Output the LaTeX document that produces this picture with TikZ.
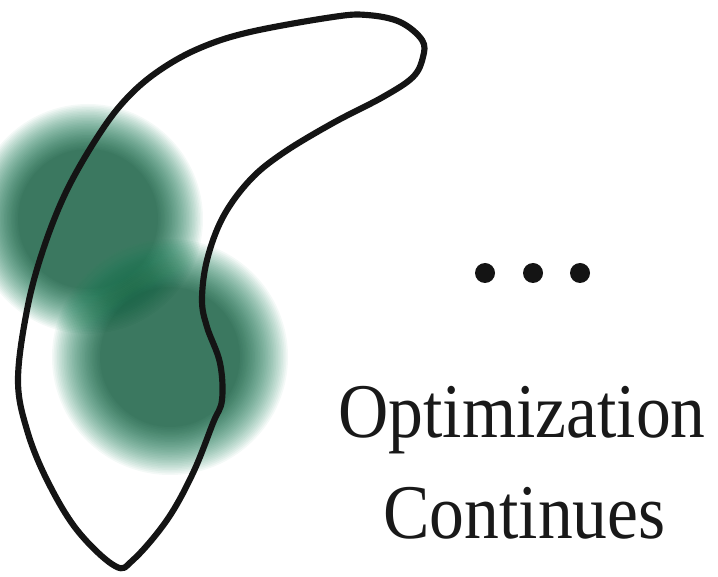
\documentclass[tikz,border=0pt]{standalone}
\usepackage{fontspec}
\setmainfont{Liberation Serif}

\definecolor{blobdark}{RGB}{8,70,40}
\definecolor{blobedge}{RGB}{30,135,95}

\tikzset{
  outline/.style={line width=3.5pt, black!92, line join=round},
  dot/.style={circle, fill=black!92, inner sep=0pt, minimum size=0.4cm},
  caption/.style={font=\fontsize{44}{57}\selectfont, text=black!90,
    xscale=0.9, inner sep=0pt}
}

\begin{document}
\begin{tikzpicture}
        \useasboundingbox (0,0) rectangle (14.36,11.52);
        % Blurred regions: stacked faint discs
        \foreach \cx/\cy/\R in {1.76/7.14/2.3, 3.40/4.38/2.36}{
          \foreach \k in {29,...,0}{
            \pgfmathsetmacro\rad{1.40+(\R-1.40)*\k/29}
            \pgfmathtruncatemacro\mix{100-3.4*\k}
            \fill[blobdark!\mix!blobedge, fill opacity=0.05]
              (\cx,\cy) circle (\rad);
          }
        }
        % Closed outline
        \draw[outline] plot[smooth cycle, tension=0.6] coordinates {
          (2.30,0.20) (1.54,0.92) (0.94,1.92) (0.54,2.92) (0.36,3.92)
          (0.54,5.32) (0.86,6.52) (1.34,7.72) (2.00,8.86) (2.56,9.58)
          (3.20,10.12) (4.00,10.56) (5.00,10.88) (6.66,11.18) (7.34,11.22)
          (8.00,11.08) (8.44,10.72) (8.46,10.38) (8.26,9.98) (7.66,9.58)
          (6.66,9.06) (5.66,8.46) (5.00,7.92) (4.46,7.18) (4.14,6.32)
          (4.04,5.52) (4.14,4.98) (4.40,4.26) (4.44,3.52) (4.26,3.06)
          (3.86,2.06) (3.34,1.12) (2.66,0.32)};
        % Dots
        \node[dot] (d1) at (9.70,6.06) {};
        \node[dot] (d2) at (10.66,6.06) {};
        \node[dot] (d3) at (11.60,6.06) {};
        % Text
        \node[caption, anchor=base] (opt) at (10.44,2.78) {Optimization};
        \node[caption, anchor=base] (cont) at (10.49,0.76) {Continues};
    \end{tikzpicture}
\end{document}
